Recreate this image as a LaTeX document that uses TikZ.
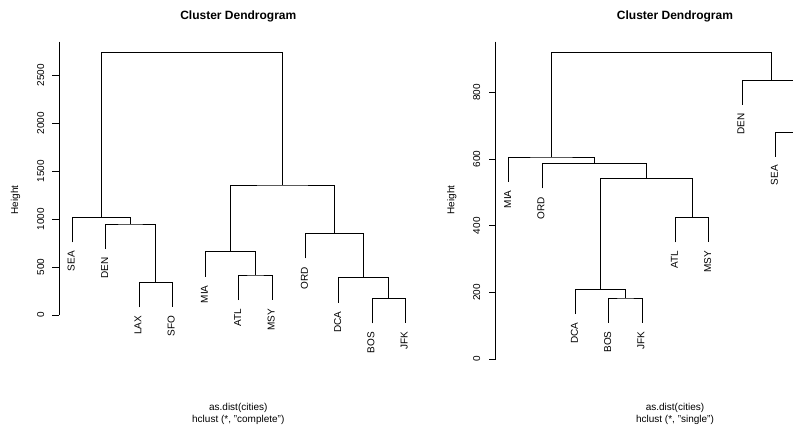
\documentclass[tikz,border=0pt]{standalone}
\usepackage{fontspec}
\setmainfont{Liberation Sans}
\begin{document}
\begin{tikzpicture}[x=1pt,y=-1pt,
  branch/.style={line width=0.8pt, black},
  axisline/.style={line width=0.9pt, black},
  leaflabel/.style={font=\fontsize{10}{12}\selectfont, rotate=90, anchor=east, inner sep=0pt},
  ticklabel/.style={font=\fontsize{10}{12}\selectfont, rotate=90, inner sep=0pt},
  titletext/.style={font=\fontsize{12}{14}\selectfont\bfseries, anchor=base, inner sep=0pt},
  subtext/.style={font=\fontsize{10}{12}\selectfont, anchor=base, inner sep=0pt},
  ylabel/.style={font=\fontsize{10}{12}\selectfont, rotate=90, inner sep=0pt}]
\useasboundingbox (0,0) rectangle (793,428);
\fill[white] (0,0) rectangle (793,428);
\clip (0,0) rectangle (793,428);

% ================= LEFT: complete linkage =================
\node[titletext] (ltitle) at (238.3,20) {Cluster Dendrogram};
\node[subtext] (lsub1) at (238.3,410) {as.dist(cities)};
\node[subtext] (lsub2) at (238.3,422.7) {hclust (*, "complete")};
\node[ylabel] (lylab) at (15.5,200) {Height};

% axis
\coordinate (laxtop) at (59,41.7);
\coordinate (laxbot) at (59,315.2);
\draw[axisline] (laxtop) -- (laxbot);
\foreach \v/\yy in {0/315.2,500/267.2,1000/219.1,1500/171.1,2000/123.0,2500/75.0}{
  \coordinate (ltick\v) at (59,\yy);
  \coordinate (ltickend\v) at (52,\yy);
  \draw[axisline] (ltick\v) -- (ltickend\v);
  \node[ticklabel] (ltl\v) at (40.7,\yy) {\v};
}

% leaves (bottom ends of leaf lines)
\foreach \n/\xx/\yy in {SEA/72.3/242.3, DEN/105.6/249, LAX/138.9/307.3, SFO/172.2/307.3,
    MIA/205.5/276.7, ATL/238.8/300, MSY/272.1/300, ORD/305.4/258.3,
    DCA/338.7/302.7, BOS/372.0/323.3, JFK/405.3/323.3}{
  \coordinate (a\n) at (\xx,\yy);
  \node[leaflabel] (al\n) at (\xx-1,\yy+8.5) {\n};
}
% merges
\coordinate (mLS)  at (155.55,282.3);
\coordinate (mDen) at (130.6,224);
\coordinate (mSea) at (101.45,217.3);
\coordinate (mAM)  at (255.45,275);
\coordinate (mMia) at (230.5,251.7);
\coordinate (mBJ)  at (388.65,298.3);
\coordinate (mDca) at (363.7,277.7);
\coordinate (mOrd) at (334.55,233.3);
\coordinate (mR)   at (282.5,185);
\coordinate (mTop) at (192,52.7);

\draw[branch] (aLAX) |- (mLS) -| (aSFO);
\draw[branch] (aDEN) |- (mDen) -| (mLS);
\draw[branch] (aSEA) |- (mSea) -| (mDen);
\draw[branch] (aATL) |- (mAM) -| (aMSY);
\draw[branch] (aMIA) |- (mMia) -| (mAM);
\draw[branch] (aBOS) |- (mBJ) -| (aJFK);
\draw[branch] (aDCA) |- (mDca) -| (mBJ);
\draw[branch] (aORD) |- (mOrd) -| (mDca);
\draw[branch] (mMia) |- (mR) -| (mOrd);
\draw[branch] (mSea) |- (mTop) -| (mR);

% ================= RIGHT: single linkage =================
\node[titletext] (rtitle) at (675,20) {Cluster Dendrogram};
\node[subtext] (rsub1) at (675,410) {as.dist(cities)};
\node[subtext] (rsub2) at (675,422.7) {hclust (*, "single")};
\node[ylabel] (rylab) at (451.7,200) {Height};

\coordinate (raxtop) at (495.7,41.7);
\coordinate (raxbot) at (495.7,359);
\draw[axisline] (raxtop) -- (raxbot);
\foreach \v/\yy in {0/359,200/292.3,400/225.7,600/159,800/92.3}{
  \coordinate (rtick\v) at (495.7,\yy);
  \coordinate (rtickend\v) at (489,\yy);
  \draw[axisline] (rtick\v) -- (rtickend\v);
  \node[ticklabel] (rtl\v) at (476.7,\yy) {\v};
}

\foreach \n/\xx/\yy in {MIA/508.7/181.7, ORD/542.0/188.4, DCA/575.4/314, BOS/608.7/322.7,
    JFK/642.0/322.7, ATL/675.4/242.3, MSY/708.7/242.3, DEN/742.0/105,
    SEA/775.3/156.5}{
  \coordinate (b\n) at (\xx,\yy);
  \node[leaflabel] (bl\n) at (\xx-1,\yy+8.5) {\n};
}
\coordinate (rBJ)  at (625.35,298);
\coordinate (rDca) at (600.4,289.3);
\coordinate (rAM)  at (692.05,217.6);
\coordinate (rMid) at (646.2,178.3);
\coordinate (rOrd) at (594.1,163.7);
\coordinate (rMia) at (551.4,157);
\coordinate (rLS)  at (825.35,245);
\coordinate (rSea) at (800.3,132.3);
\coordinate (rDen) at (771.2,80.3);
\coordinate (rTop) at (661.3,52.7);

\draw[branch] (bBOS) |- (rBJ) -| (bJFK);
\draw[branch] (bDCA) |- (rDca) -| (rBJ);
\draw[branch] (bATL) |- (rAM) -| (bMSY);
\draw[branch] (rDca) |- (rMid) -| (rAM);
\draw[branch] (bORD) |- (rOrd) -| (rMid);
\draw[branch] (bMIA) |- (rMia) -| (rOrd);
\draw[branch] (bSEA) |- (rSea) -| (rLS);
\draw[branch] (bDEN) |- (rDen) -| (rSea);
\draw[branch] (rMia) |- (rTop) -| (rDen);
\end{tikzpicture}
\end{document}
